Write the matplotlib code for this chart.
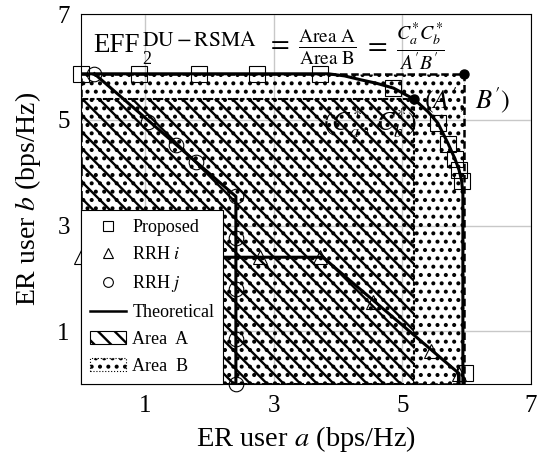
import matplotlib.pyplot as plt
from matplotlib.patches import Rectangle, Patch
from matplotlib.lines import Line2D

plt.rcParams['font.family'] = 'serif'
plt.rcParams['font.serif'] = ['Liberation Serif', 'DejaVu Serif']
plt.rcParams['mathtext.fontset'] = 'stix'
plt.rcParams['hatch.linewidth'] = 1.7

# proposed scheme: simulated points and theoretical boundary
prop_x = [0, 0.91, 1.83, 2.74, 3.72, 4.86, 5.55, 5.71, 5.82, 5.88, 5.92, 5.97]
prop_y = [5.87, 5.87, 5.87, 5.87, 5.87, 5.6, 4.94, 4.55, 4.25, 4.05, 3.85, 0.21]
prop_th_x = [0, 3.85, 4.1, 4.34, 4.6, 4.86, 5.18, 5.4, 5.55, 5.71, 5.82, 5.88, 5.92, 5.94, 5.94]
prop_th_y = [5.87, 5.87, 5.83, 5.76, 5.69, 5.6, 5.39, 5.15, 4.94, 4.55, 4.25, 4.05, 3.85, 3.6, 0]

# RRH i (triangles)
rrhi_x = [0, 2.79, 3.72, 4.54, 5.44, 5.88]
rrhi_y = [2.4, 2.4, 2.4, 1.55, 0.62, 0.2]
rrhi_th_x = [0, 3.76, 5.88, 5.88]
rrhi_th_y = [2.4, 2.4, 0.2, 0]

# RRH j (circles)
rrhj_x = [0.21, 1.05, 1.48, 1.79, 2.41, 2.41, 2.41, 2.41, 2.41]
rrhj_y = [5.87, 4.96, 4.52, 4.2, 3.55, 2.76, 1.8, 0.85, 0]
rrhj_th_x = [0.21, 2.41, 2.41]
rrhj_th_y = [5.87, 3.55, 0]

# corner points
c_star = (5.18, 5.39)
ab_prime = (5.96, 5.87)

fig, ax = plt.subplots(figsize=(5.43, 4.54), dpi=100)
fig.subplots_adjust(left=0.149, right=0.978, bottom=0.154, top=0.969)

# Area B (dots) then Area A (hatch) on top
area_b = Rectangle((0, 0), ab_prime[0], ab_prime[1], facecolor='none', edgecolor='black',
                   hatch='..', linestyle=(0, (3, 1.5)), linewidth=1.8, zorder=1)
area_a = Rectangle((0, 0), c_star[0], c_star[1], facecolor='none', edgecolor='black',
                   hatch='\\\\', linestyle=(0, (2, 1)), linewidth=1.5, zorder=1.1)
ax.add_patch(area_b)
ax.add_patch(area_a)

ax.text(3.76, 4.93, r'$(C_a^{*},\,C_b^{*})$', fontsize=19, va='center', ha='left', zorder=0.5)

ax.plot(prop_th_x, prop_th_y, color='black', lw=2.2, zorder=3)
ax.plot(rrhi_th_x, rrhi_th_y, color='black', lw=2.2, zorder=3)
ax.plot(rrhj_th_x, rrhj_th_y, color='black', lw=2.2, zorder=3)

ax.plot(prop_x, prop_y, 's', ms=11, mfc='none', mec='black', mew=0.8, clip_on=False, zorder=4)
ax.plot(rrhi_x, rrhi_y, '^', ms=10, mfc='none', mec='black', mew=0.8, clip_on=False, zorder=4)
ax.plot(rrhj_x, rrhj_y, 'o', ms=10.5, mfc='none', mec='black', mew=0.8, clip_on=False, zorder=4)

ax.plot(*c_star, 'o', color='black', ms=6.5, zorder=5)
ax.plot(*ab_prime, 'o', color='black', ms=6.5, zorder=5)

ax.text(5.33, 5.37, r"$(A',\ B')$", fontsize=19, va='center', ha='left', zorder=2)

# efficiency formula at the top
ax.text(0.20, 6.28, 'EFF', fontsize=19.5, va='baseline', ha='left', zorder=2)
ax.text(0.95, 6.40, r'$\mathrm{DU-RSMA}$', fontsize=15.5, va='baseline', ha='left', zorder=2)
ax.text(0.95, 6.05, '2', fontsize=13, va='baseline', ha='left', zorder=2)
ax.text(2.89, 6.37, r'$=\;\frac{\mathrm{Area\ A}}{\mathrm{Area\ B}}$', fontsize=19.5,
        va='center', ha='left', zorder=2)
ax.text(4.39, 6.40, r"$=\;\frac{C_a^{*}C_b^{*}}{A'B'}$", fontsize=20.5,
        va='center', ha='left', zorder=2)

ax.set_xlim(0, 7)
ax.set_ylim(0, 7)
ax.set_xticks([1, 3, 5, 7])
ax.set_yticks([1, 3, 5, 7])
ax.tick_params(length=0, labelsize=18, pad=8)
ax.grid(True, color='#c8c8c8', lw=1)
ax.set_axisbelow(True)
ax.set_xlabel(r'ER user $a$ (bps/Hz)', fontsize=20.5, labelpad=5)
ax.set_ylabel(r'ER user $b$ (bps/Hz)', fontsize=20, labelpad=10)

handles = [
    Line2D([], [], marker='s', ls='none', mfc='none', mec='black', ms=7, mew=0.8),
    Line2D([], [], marker='^', ls='none', mfc='none', mec='black', ms=7, mew=0.8),
    Line2D([], [], marker='o', ls='none', mfc='none', mec='black', ms=7, mew=0.8),
    Line2D([], [], color='black', lw=1.8),
    Patch(facecolor='white', edgecolor='black', hatch='\\\\', lw=0.8),
    Patch(facecolor='white', edgecolor='black', hatch='..', lw=0.8, ls=':'),
]
labels = ['Proposed', r'RRH $i$', r'RRH $j$', 'Theoretical', 'Area  A', 'Area  B']
leg = ax.legend(handles, labels, loc='lower left', borderaxespad=0, fontsize=13,
                fancybox=False, framealpha=1, edgecolor='black', handlelength=2.0,
                labelspacing=0.55, handletextpad=0.35, borderpad=0.5)
leg.get_frame().set_linewidth(0.8)
leg.set_zorder(10)

fig.savefig('out.png', dpi=100)
